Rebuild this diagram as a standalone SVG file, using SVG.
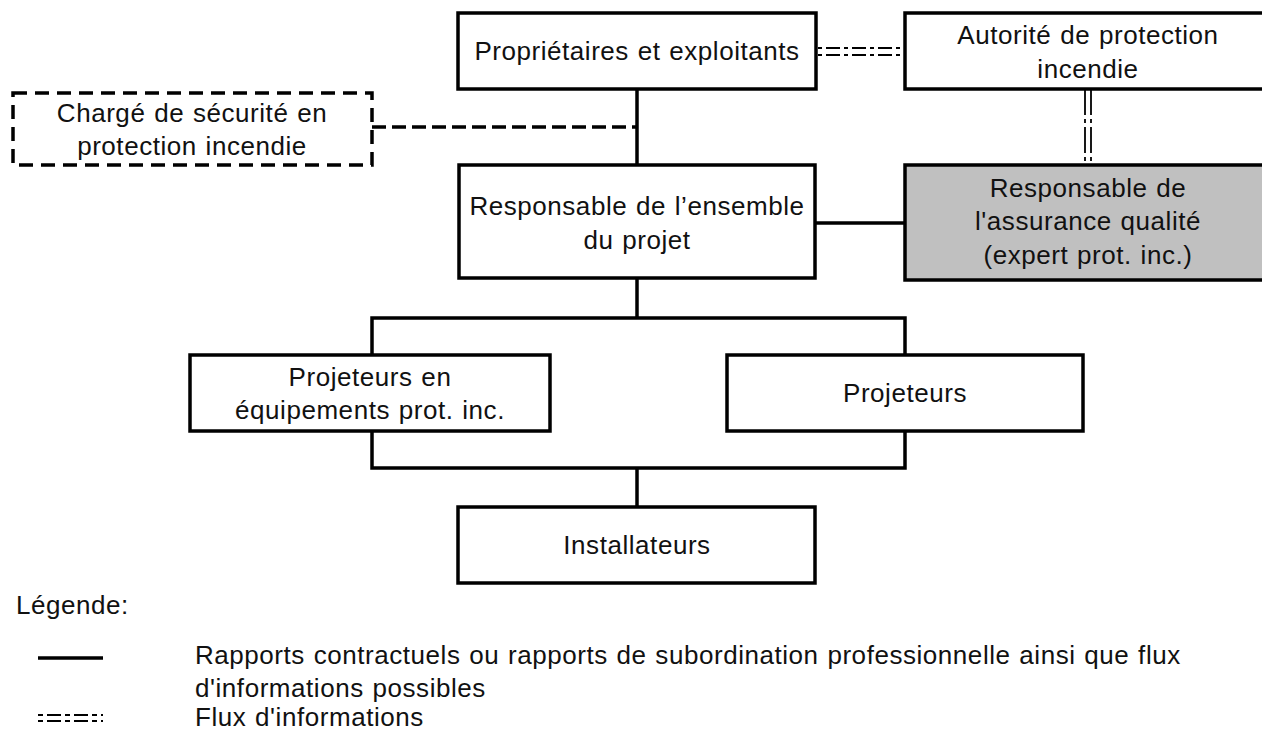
<svg xmlns="http://www.w3.org/2000/svg" width="1262" height="731" viewBox="0 0 1262 731">
<style>
.box{fill:#fff;stroke:#000;stroke-width:3.5}
.qa{fill:#c0c0c0;stroke:#000;stroke-width:3.5}
.dbox{fill:#fff;stroke:#000;stroke-width:3.5;stroke-dasharray:14 8}
.t,.tl{font-family:"Liberation Sans",Arial,sans-serif;font-size:26px;fill:#111;letter-spacing:0.55px;word-spacing:1px}
.t{text-anchor:middle}
.solid{fill:none;stroke:#000;stroke-width:3.5}
.dash{fill:none;stroke:#000;stroke-width:3.5;stroke-dasharray:14 6}
.info{fill:none;stroke:#000;stroke-width:1.8;stroke-dasharray:4 4 14 4}
.infov{fill:none;stroke:#000;stroke-width:1.8;stroke-dasharray:26 4 4 4}
.infol{fill:none;stroke:#000;stroke-width:2;stroke-dasharray:5 4 14 4}
</style>
<rect width="1262" height="731" fill="#fff"/>
<g id="connectors">
<path class="solid" d="M637 89V165"/>
<path class="dash" d="M372 127H637"/>
<path class="solid" d="M815 223H905"/>
<path class="solid" d="M637 278V318"/>
<path class="solid" d="M372 318H905V468H372Z"/>
<path class="solid" d="M637 468V507"/>
<path class="info" d="M818 48H905M818 55H905"/>
<path class="infov" d="M1085 89V165M1091 89V165"/>
</g>
<g id="n-proprietaires">
<rect class="box" x="458" y="13" width="358" height="76"/>
<text class="t" x="637" y="60">Propriétaires et exploitants</text>
</g>
<g id="n-autorite">
<rect class="box" x="905" y="13" width="370" height="76"/>
<text class="t" x="1088" y="44">Autorité de protection</text>
<text class="t" x="1088" y="78">incendie</text>
</g>
<g id="n-charge">
<rect class="dbox" x="13" y="93" width="359" height="72"/>
<text class="t" x="192" y="122">Chargé de sécurité en</text>
<text class="t" x="192" y="155">protection incendie</text>
</g>
<g id="n-responsable">
<rect class="box" x="459" y="165" width="356" height="113"/>
<text class="t" x="637" y="215">Responsable de l’ensemble</text>
<text class="t" x="637" y="249">du projet</text>
</g>
<g id="n-qa">
<rect class="qa" x="905" y="165" width="370" height="115"/>
<text class="t" x="1088" y="197">Responsable de</text>
<text class="t" x="1088" y="230">l'assurance qualité</text>
<text class="t" x="1088" y="264">(expert prot. inc.)</text>
</g>
<g id="n-projeq">
<rect class="box" x="190" y="355" width="360" height="76"/>
<text class="t" x="370" y="386">Projeteurs en</text>
<text class="t" x="370" y="419">équipements prot. inc.</text>
</g>
<g id="n-projeteurs">
<rect class="box" x="727" y="355" width="356" height="76"/>
<text class="t" x="905" y="402">Projeteurs</text>
</g>
<g id="n-installateurs">
<rect class="box" x="458" y="507" width="357" height="76"/>
<text class="t" x="637" y="554">Installateurs</text>
</g>
<g id="legend">
<text class="tl" x="16" y="614">Légende:</text>
<path class="solid" d="M38 658H103"/>
<path class="infol" d="M38 715H103M38 721H103"/>
<text class="tl" x="195" y="664">Rapports contractuels ou rapports de subordination professionnelle ainsi que flux</text>
<text class="tl" x="195" y="697">d'informations possibles</text>
<text class="tl" x="195" y="726">Flux d'informations</text>
</g>
</svg>
